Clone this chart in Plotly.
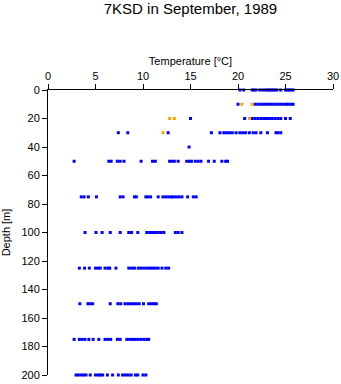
import plotly.graph_objects as go

# Temperature readings (°C) grouped by sampling depth (m)
depths = [0, 10, 20, 30, 40, 50, 75, 100, 125, 150, 175, 200]

temp_0m = [20.2, 20.6, 21.5, 21.7, 21.9, 22.3, 22.6, 22.9, 23.1, 23.3, 23.5, 23.7,
           23.9, 24.1, 24.5, 25.0, 25.2, 25.4, 25.6, 25.8]
temp_10m = [20.0, 21.8, 22.1, 22.4, 22.7, 23.0, 23.3, 23.6, 23.9, 24.2, 24.5, 24.8,
            25.1, 25.3, 25.6, 25.8]
temp_20m = [15.0, 20.7, 21.5, 21.8, 22.1, 22.4, 22.7, 23.0, 23.3, 23.6, 23.9, 24.2,
            24.5, 25.0, 25.5]
temp_30m = [7.4, 8.4, 12.65, 17.2, 18.1, 18.5, 18.8, 19.1, 19.4, 19.8, 20.2, 20.5,
            20.8, 21.2, 21.6, 21.9, 22.4, 23.1, 24.0, 24.2, 24.5]
temp_40m = [14.85]
temp_50m = [2.75, 6.4, 6.65, 7.3, 7.6, 8.0, 9.8, 11.0, 11.3, 12.8, 13.0, 13.3, 13.7,
            14.6, 14.9, 15.1, 15.5, 15.8, 16.1, 16.9, 17.5, 18.3, 18.7, 18.9]
temp_75m = [3.5, 3.8, 4.25, 5.1, 7.6, 7.9, 9.1, 9.3, 10.3, 10.5, 10.8, 11.6, 12.1,
            12.4, 12.7, 13.0, 13.2, 13.5, 13.8, 14.1, 14.7, 15.3, 15.6]
temp_100m = [3.9, 5.05, 5.7, 6.55, 7.6, 8.5, 8.8, 9.45, 10.4, 10.7, 11.0, 11.3, 11.6,
             11.9, 12.2, 13.4, 13.7, 14.1]
temp_125m = [3.3, 3.85, 4.35, 5.0, 5.3, 5.5, 6.0, 6.3, 6.5, 7.15, 8.5, 8.8, 9.1, 9.5,
             9.8, 10.1, 10.4, 10.7, 11.0, 11.3, 11.6, 12.0, 12.4, 12.7]
temp_150m = [3.35, 4.2, 4.45, 4.7, 6.55, 7.35, 7.65, 8.1, 8.4, 8.7, 9.0, 9.3, 9.6,
             10.05, 10.6, 10.9, 11.2, 11.4]
temp_175m = [2.75, 3.3, 3.6, 3.9, 4.3, 4.75, 5.35, 6.0, 6.3, 6.6, 7.3, 7.6, 8.3, 8.6,
             8.9, 9.2, 9.5, 9.8, 10.1, 10.4, 10.6]
temp_200m = [2.95, 3.2, 3.5, 3.75, 4.0, 4.45, 5.0, 5.3, 5.5, 5.75, 6.25, 6.8, 7.4,
             7.85, 8.15, 8.45, 8.75, 9.2, 9.45, 10.0, 10.3]

# Flagged readings
flag_depth = [10, 10, 20, 20, 20, 30]
flag_temp = [20.4, 21.5, 12.8, 13.3, 21.2, 12.1]

groups = [temp_0m, temp_10m, temp_20m, temp_30m, temp_40m, temp_50m, temp_75m,
          temp_100m, temp_125m, temp_150m, temp_175m, temp_200m]

x_all, y_all = [], []
for d, temps in zip(depths, groups):
    x_all += temps
    y_all += [d] * len(temps)

FONT = "Liberation Sans, Arial, sans-serif"

fig = go.Figure()
fig.add_trace(go.Scatter(
    x=x_all, y=y_all, mode="markers",
    marker=dict(symbol="square", size=3, color="#0000ff", line=dict(width=0)),
    cliponaxis=False, showlegend=False,
))
fig.add_trace(go.Scatter(
    x=flag_temp, y=flag_depth, mode="markers",
    marker=dict(symbol="square", size=3, color="#ffa500", line=dict(width=0)),
    cliponaxis=False, showlegend=False,
))

fig.update_layout(
    width=341, height=384,
    margin=dict(l=48, r=8, t=90, b=9),
    paper_bgcolor="white", plot_bgcolor="white",
    font=dict(family=FONT, size=11, color="black"),
    title=dict(text="7KSD in September, 1989", x=0.5, xref="paper",
               y=1 - 9 / 384, yref="container", yanchor="middle",
               font=dict(family=FONT, size=15, color="black")),
    xaxis=dict(
        side="top", range=[0, 30], dtick=5, tick0=0,
        showline=True, linecolor="black", linewidth=1,
        ticks="outside", ticklen=5, tickcolor="black", tickwidth=1,
        showgrid=False, zeroline=False, automargin=False,
        title=dict(text="Temperature [°C]", standoff=1,
                   font=dict(family=FONT, size=11)),
        tickfont=dict(family=FONT, size=11),
    ),
    yaxis=dict(
        range=[200, 0], dtick=20, tick0=0,
        showline=True, linecolor="black", linewidth=1,
        ticks="outside", ticklen=5, tickcolor="black", tickwidth=1,
        showgrid=False, zeroline=False, automargin=False,
        title=dict(text="Depth [m]", standoff=8,
                   font=dict(family=FONT, size=11)),
        tickfont=dict(family=FONT, size=11),
    ),
)

fig.write_html("out.html")
